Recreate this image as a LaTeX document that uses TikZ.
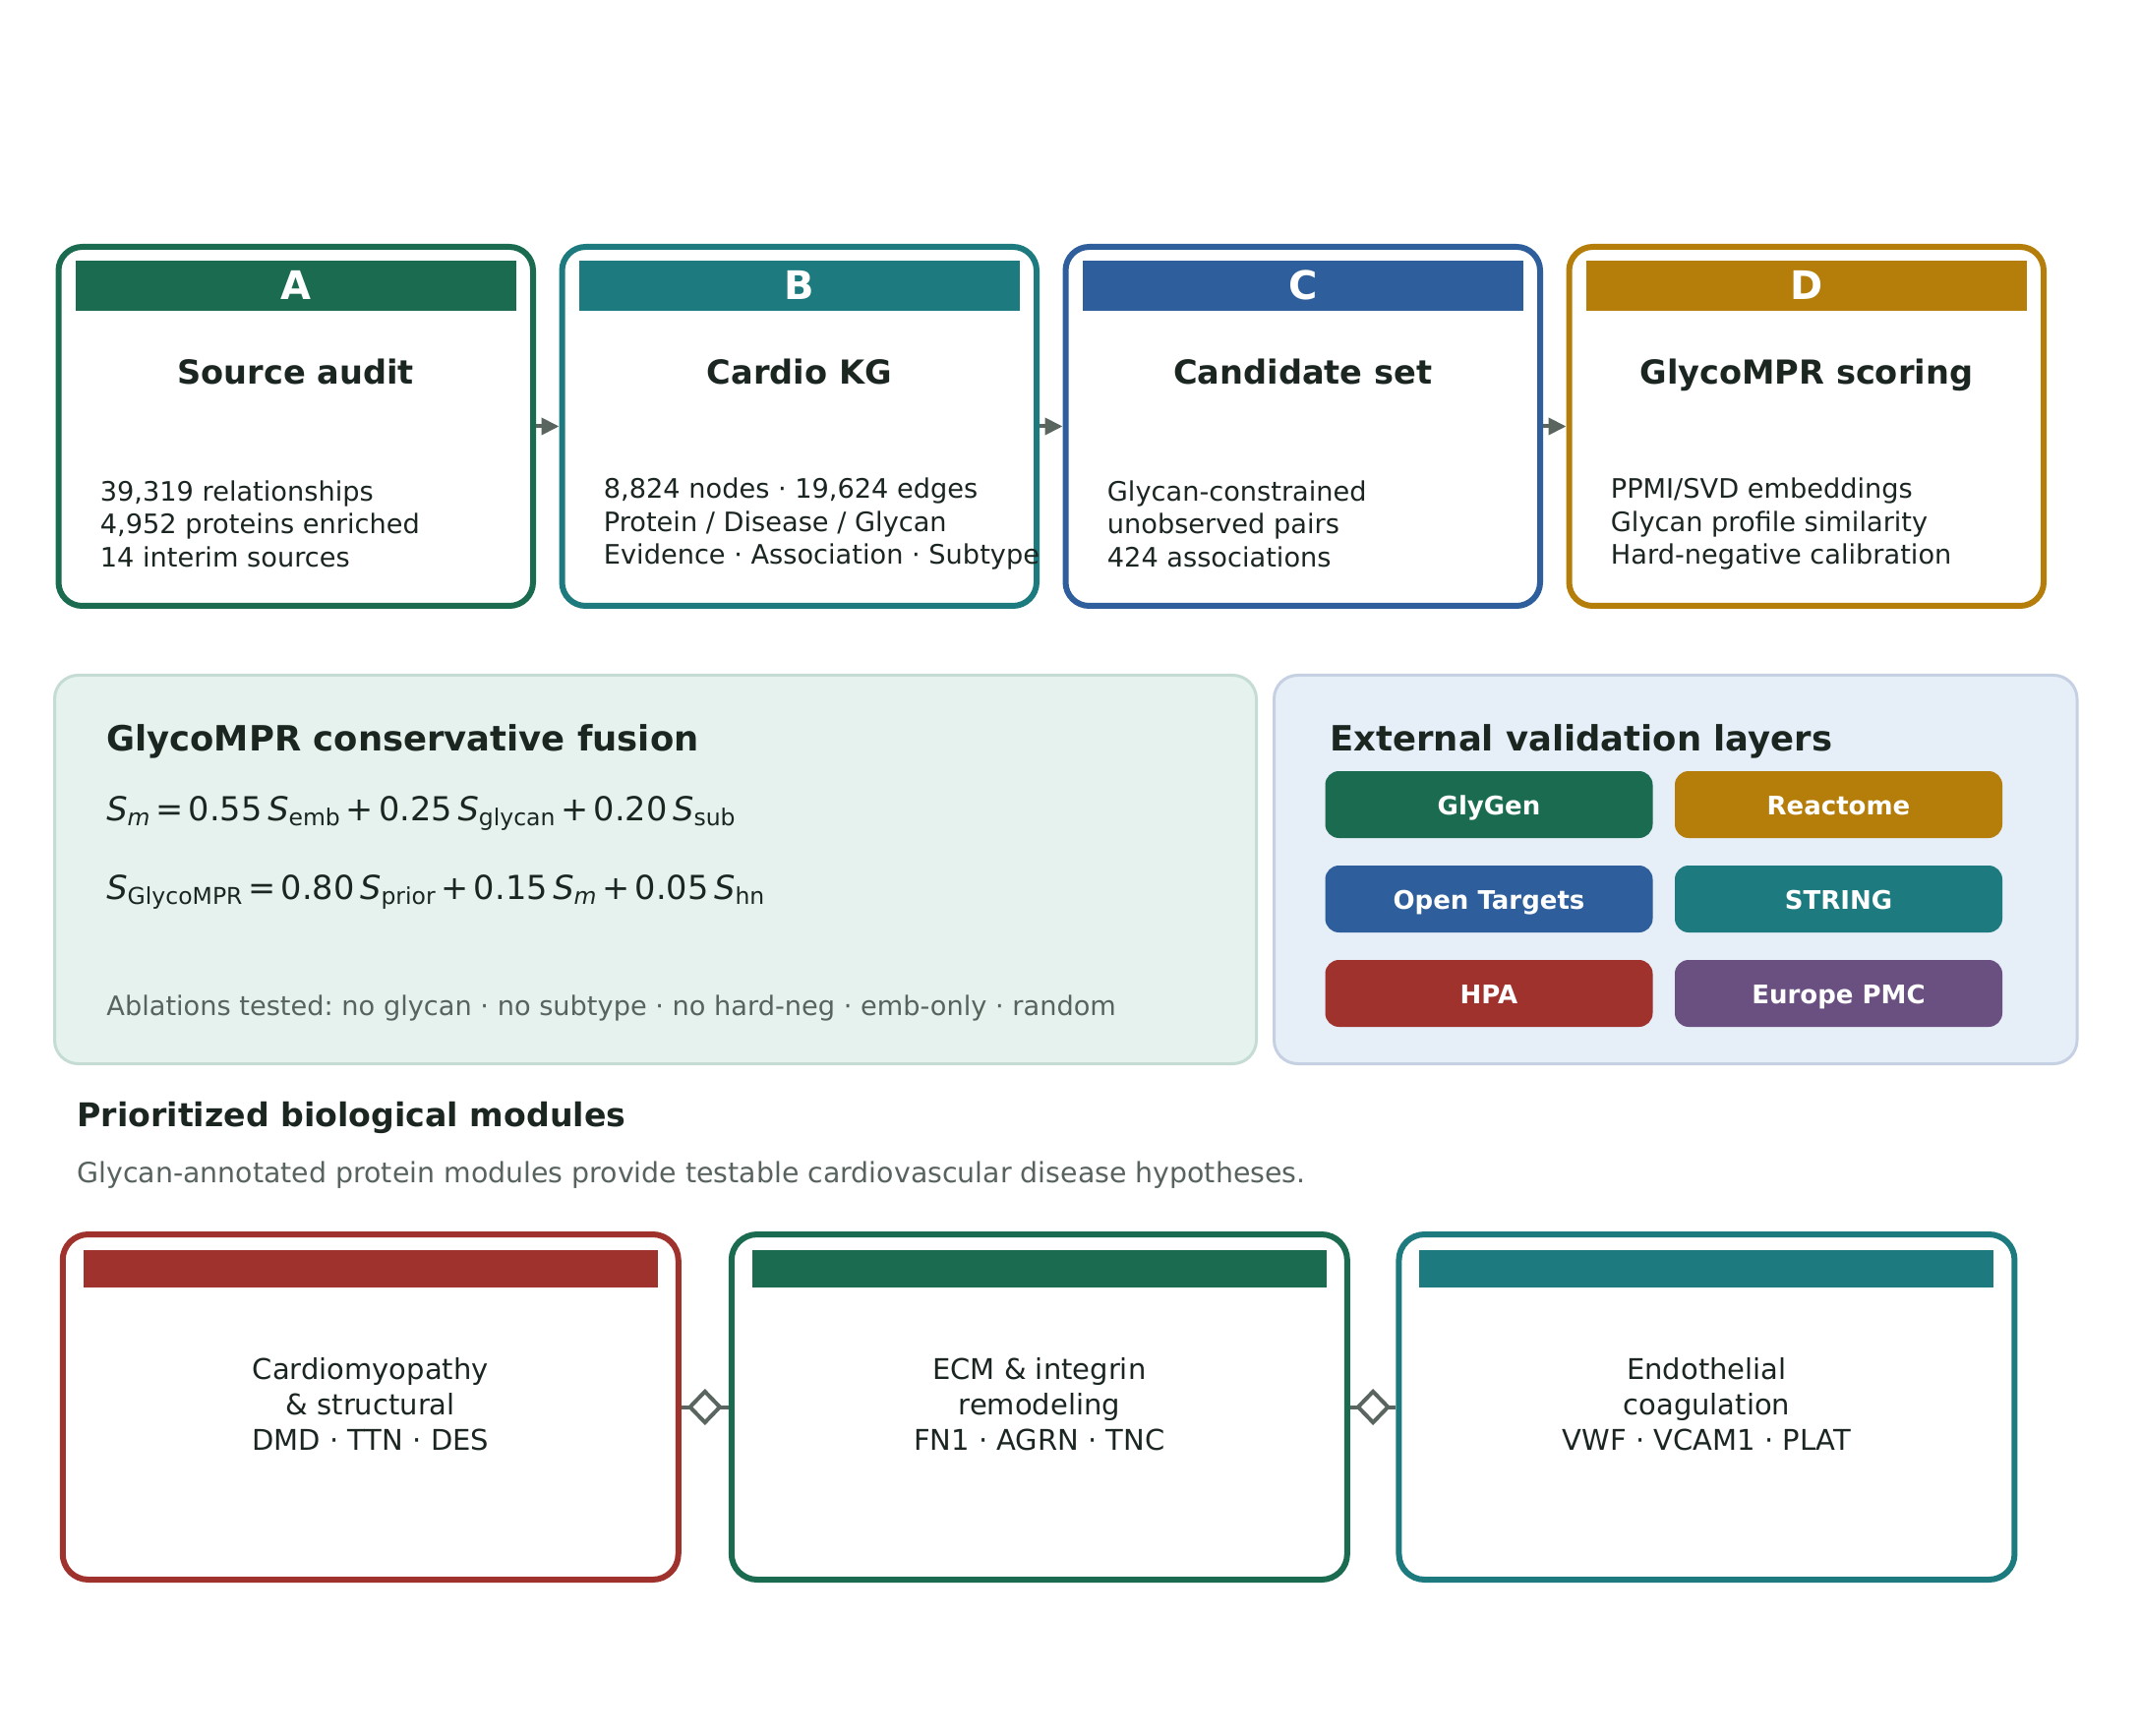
\documentclass[tikz,border=0pt]{standalone}
\usepackage{fontspec}
\setmainfont{DejaVu Sans}
\usetikzlibrary{arrows.meta,shapes.geometric}
\frenchspacing
\definecolor{cA}{RGB}{27,107,80}
\definecolor{cB}{RGB}{29,123,127}
\definecolor{cC}{RGB}{46,94,155}
\definecolor{cD}{RGB}{181,125,10}
\definecolor{cR}{RGB}{160,50,45}
\definecolor{cP}{RGB}{106,80,128}
\definecolor{ink}{RGB}{27,38,33}
\definecolor{mute}{RGB}{88,99,94}
\definecolor{conn}{RGB}{89,101,94}
\definecolor{gfill}{RGB}{230,242,238}
\definecolor{gline}{RGB}{196,220,211}
\definecolor{bfill}{RGB}{230,238,248}
\definecolor{bline}{RGB}{197,209,227}
\newcommand\Sx[1]{\textit{S}\textsubscript{#1}}
\newcommand\opsp[1]{\hspace{0.15em}#1\hspace{0.15em}}
\newcommand\chiptext[1]{\raisebox{-2pt}{#1}}
\tikzset{
  x=0.5pt, y=-0.5pt,
  stagebox/.style={draw, line width=3pt, rounded corners=12pt, fill=white,
    minimum width=241.25pt, minimum height=182.5pt, inner sep=0pt},
  stagehead/.style={inner sep=0pt, minimum width=224pt, minimum height=25.5pt},
  headletter/.style={text=white, font=\bfseries\fontsize{20}{24}\selectfont, anchor=base, inner sep=0pt},
  stagetitle/.style={text=ink, font=\bfseries\fontsize{16.8}{20}\selectfont, anchor=base, inner sep=0pt},
  stagebody/.style={text=ink, font=\fontsize{13.6}{16.75}\selectfont, align=left, anchor=west, inner sep=0pt},
  flow/.style={draw=conn, line width=2pt, -{Triangle[length=9pt,width=8.5pt]}},
  panel/.style={line width=1.5pt, rounded corners=12pt, inner sep=0pt},
  paneltitle/.style={text=ink, font=\bfseries\fontsize{17.7}{21}\selectfont, anchor=base west, inner sep=0pt},
  eqn/.style={text=ink, font=\fontsize{16.8}{20}\selectfont, anchor=base west, inner sep=0pt},
  chip/.style={rounded corners=7pt, minimum width=166.5pt, minimum height=34pt, inner sep=0pt,
    text=white, font=\bfseries\fontsize{13}{15}\selectfont, text height=0.73em, text depth=0.05em},
  modbox/.style={draw, line width=3pt, rounded corners=13pt, fill=white,
    minimum width=313pt, minimum height=175.5pt, inner sep=0pt},
  modhead/.style={inner sep=0pt, minimum width=292pt, minimum height=19pt},
  modtext/.style={text=ink, font=\fontsize{14.5}{18}\selectfont, align=center, inner sep=0pt},
  link/.style={draw=conn, line width=2pt},
  gem/.style={diamond, draw=conn, line width=2pt, fill=white, inner sep=0pt,
    minimum width=16pt, minimum height=16.5pt}
}
\begin{document}
\begin{tikzpicture}
\useasboundingbox (0,0) rectangle (2176,1765);
% ---- top stage boxes
\foreach \n/\c/\x/\L/\T in {A/cA/300.75/A/Source audit, B/cB/812.75/B/Cardio KG, C/cC/1324.75/C/Candidate set, D/cD/1836.75/D/GlycoMPR scoring}{
  \node[stagebox, draw=\c] (\n) at (\x,433.5) {};
  \node[stagehead, fill=\c] (\n h) at (\x,290.5) {};
  \node[headletter] (\n l) at (\x,304.5) {\L};
  \node[stagetitle] (\n t) at (\x,391) {\T};
}
\node[stagebody] (Ab) at (101.5,532.5) {39,319 relationships\\4,952 proteins enriched\\14 interim sources};
\node[stagebody] (Bb) at (613.5,532.5) {8,824 nodes · 19,624 edges\\Protein / Disease / Glycan\\Evidence · Association · Subtype};
\node[stagebody] (Cb) at (1125.5,532.5) {Glycan-constrained\\unobserved pairs\\424 associations};
\node[stagebody] (Db) at (1637.5,532.5) {PPMI/SVD embeddings\\Glycan profile similarity\\Hard-negative calibration};
\draw[flow] (A) -- (B);
\draw[flow] (B) -- (C);
\draw[flow] (C) -- (D);
% ---- fusion panel
\node[panel, draw=gline, fill=gfill, minimum width=611pt, minimum height=197.5pt] (fus) at (666.5,884) {};
\node[paneltitle] (fust) at (108,763) {GlycoMPR conservative fusion};
\node[eqn] (eq1) at (108,834) {\Sx{\textit{m}}\opsp{=}0.55\,\Sx{emb}\opsp{+}0.25\,\Sx{glycan}\opsp{+}0.20\,\Sx{sub}};
\node[eqn] (eq2) at (108,914) {\Sx{GlycoMPR}\opsp{=}0.80\,\Sx{prior}\opsp{+}0.15\,\Sx{\textit{m}}\opsp{+}0.05\,\Sx{hn}};
\node[text=mute, font=\fontsize{13.6}{16}\selectfont, anchor=base west, inner sep=0pt] (abl) at (108,1032.5)
  {Ablations tested: no glycan · no subtype · no hard-neg · emb-only · random};
% ---- validation panel
\node[panel, draw=bline, fill=bfill, minimum width=408.25pt, minimum height=197.5pt] (val) at (1703.75,884) {};
\node[paneltitle] (valt) at (1352,763) {External validation layers};
\node[chip, fill=cA] (glygen) at (1514,818) {\chiptext{GlyGen}};
\node[chip, fill=cD] (reactome) at (1869.5,818) {\chiptext{Reactome}};
\node[chip, fill=cC] (ot) at (1514,914) {\chiptext{Open Targets}};
\node[chip, fill=cB] (string) at (1869.5,914) {\chiptext{STRING}};
\node[chip, fill=cR] (hpa) at (1514,1010) {\chiptext{HPA}};
\node[chip, fill=cP] (epmc) at (1869.5,1010) {\chiptext{Europe PMC}};
% ---- modules
\node[text=ink, font=\bfseries\fontsize{16.6}{20}\selectfont, anchor=base west, inner sep=0pt] (prio) at (78,1145.5) {Prioritized biological modules};
\node[text=mute, font=\fontsize{14.2}{17}\selectfont, anchor=base west, inner sep=0pt] (prios) at (78,1202)
  {Glycan-annotated protein modules provide testable cardiovascular disease hypotheses.};
\foreach \n/\c/\x in {M1/cR/376.75, M2/cA/1056.85, M3/cB/1735.45}{
  \node[modbox, draw=\c] (\n) at (\x,1430.5) {};
  \node[modhead, fill=\c] (\n h) at (\x,1290) {};
}
\node[modtext] (M1t) at (376.75,1428) {Cardiomyopathy\\\& structural\\DMD · TTN · DES};
\node[modtext] (M2t) at (1056.85,1428) {ECM \& integrin\\remodeling\\FN1 · AGRN · TNC};
\node[modtext] (M3t) at (1735.45,1428) {Endothelial\\coagulation\\VWF · VCAM1 · PLAT};
\draw[link] (M1) -- node[gem] (g1) {} (M2);
\draw[link] (M2) -- node[gem] (g2) {} (M3);
\end{tikzpicture}
\end{document}
